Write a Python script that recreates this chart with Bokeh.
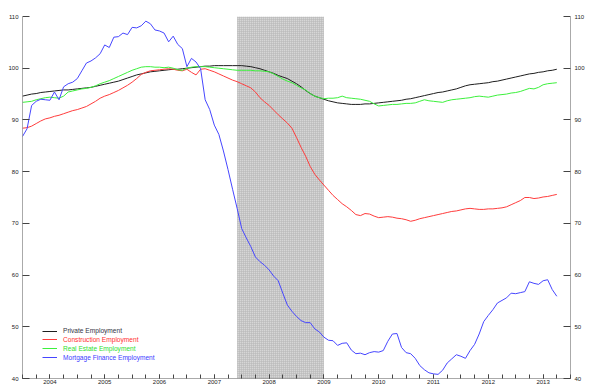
import numpy as np
from bokeh.plotting import figure
from bokeh.models import Range1d, LinearAxis, FixedTicker, Legend, LegendItem, Label
from bokeh.embed import file_html
from bokeh.resources import INLINE

# ---------------- data (monthly, Jan 2004 onward; index Jan 2007 = 100) ----------------
start_year = 2004
years = list(range(2004, 2014))
year_labels = [str(y) for y in years]
y_ticks = [40, 50, 60, 70, 80, 90, 100, 110]
rec_start = [2007 + 11 / 12]   # Dec 2007
rec_end = [2009.5]             # Jun 2009

series_names = ["Private Employment", "Construction Employment",
                "Real Estate Employment", "Mortgage Finance Employment"]

private = [
    94.6, 94.8, 95.0, 95.1, 95.3, 95.4, 95.5, 95.6, 95.7, 95.8, 95.8, 95.9,
    96.0, 96.1, 96.2, 96.3, 96.5, 96.7, 96.9, 97.1, 97.3, 97.5, 97.8, 98.1,
    98.4, 98.7, 98.9, 99.1, 99.3, 99.4, 99.5, 99.6, 99.7, 99.8, 99.8, 99.9,
    100.0, 100.1, 100.2, 100.3, 100.4, 100.4, 100.5, 100.5, 100.5, 100.5, 100.5, 100.5,
    100.5, 100.4, 100.3, 100.1, 99.9, 99.6, 99.3, 99.0, 98.6, 98.3, 98.0, 97.5,
    97.0, 96.4, 95.7, 95.1, 94.6, 94.3, 94.0, 93.7, 93.5, 93.3, 93.2, 93.1,
    93.0, 93.0, 93.0, 93.1, 93.1, 93.2, 93.3, 93.4, 93.5, 93.6, 93.7, 93.8,
    94.0, 94.1, 94.3, 94.5, 94.7, 94.9, 95.1, 95.3, 95.4, 95.6, 95.8, 96.0,
    96.3, 96.6, 96.8, 96.9, 97.0, 97.1, 97.2, 97.4, 97.5, 97.7, 97.9, 98.1,
    98.3, 98.5, 98.7, 98.9, 99.0, 99.2, 99.3, 99.5, 99.6, 99.8,
]

construction = [
    88.4, 88.5, 88.8, 89.3, 89.8, 90.2, 90.4, 90.7, 90.9, 91.2, 91.5, 91.8,
    92.0, 92.3, 92.6, 93.1, 93.6, 94.2, 94.6, 94.9, 95.3, 95.7, 96.2, 96.7,
    97.3, 98.0, 98.8, 99.2, 99.5, 99.6, 99.7, 99.8, 99.9, 99.8, 99.6, 99.5,
    99.8, 99.2, 98.7, 99.8, 99.9, 99.6, 99.3, 98.9, 98.5, 98.1, 97.7, 97.4,
    97.0, 96.6, 96.2, 95.4, 94.3, 93.5, 92.8, 91.9, 91.0, 90.2, 89.4, 88.4,
    86.6, 84.7, 83.0, 81.0, 79.5, 78.4, 77.4, 76.4, 75.4, 74.6, 73.8, 73.2,
    72.5, 71.7, 71.5, 71.9, 71.8, 71.4, 71.1, 71.2, 71.3, 71.2, 71.0, 70.9,
    70.7, 70.4, 70.6, 70.9, 71.1, 71.3, 71.5, 71.7, 71.9, 72.1, 72.3, 72.4,
    72.6, 72.8, 72.9, 72.8, 72.7, 72.7, 72.8, 72.8, 72.9, 73.0, 73.2, 73.6,
    74.0, 74.4, 75.0, 75.0, 74.8, 74.9, 75.1, 75.2, 75.4, 75.6,
]

real_estate = [
    93.4, 93.5, 93.6, 93.9, 94.1, 94.3, 94.4, 94.3, 94.2, 94.6, 95.4, 95.6,
    95.8, 96.0, 96.1, 96.3, 96.6, 97.0, 97.3, 97.6, 98.0, 98.4, 98.8, 99.2,
    99.6, 99.9, 100.2, 100.3, 100.3, 100.2, 100.2, 100.1, 100.2, 100.0, 99.7, 99.6,
    100.0, 100.2, 100.3, 100.3, 100.3, 100.2, 100.1, 100.0, 99.9, 99.8, 99.7, 99.6,
    99.6, 99.6, 99.6, 99.5, 99.5, 99.4, 99.3, 98.9, 98.4, 97.9, 97.5, 97.2,
    96.7, 96.2, 95.8, 95.1, 94.6, 94.3, 94.1, 94.2, 94.2, 94.3, 94.6, 94.3,
    94.2, 94.1, 94.0, 93.8, 93.6, 93.1, 92.7, 92.8, 92.9, 93.0, 93.0, 93.1,
    93.2, 93.2, 93.3, 93.6, 93.9, 93.7, 93.6, 93.5, 93.4, 93.7, 93.9, 94.0,
    94.1, 94.2, 94.3, 94.5, 94.6, 94.5, 94.4, 94.6, 94.8, 94.9, 95.0, 95.2,
    95.3, 95.5, 95.8, 96.1, 96.0, 96.3, 96.8, 97.0, 97.1, 97.2,
]

mortgage = [
    86.8, 88.3, 92.8, 93.6, 94.0, 93.9, 93.8, 95.4, 93.9, 96.4, 97.0, 97.3,
    98.0, 99.5, 101.0, 101.4, 102.0, 102.8, 104.5, 104.0, 106.0, 106.1, 106.8, 106.5,
    107.9, 107.8, 108.2, 109.1, 108.6, 107.4, 107.2, 106.8, 105.1, 106.2, 104.6, 103.8,
    100.3, 101.9, 101.2, 99.9, 93.9, 92.0, 89.0, 87.2, 84.0, 80.4, 76.6, 72.9,
    69.0, 67.2, 65.5, 63.5, 62.6, 61.9, 61.0, 59.8, 58.9, 56.5, 54.2, 53.0,
    52.0, 51.2, 50.8, 50.8, 49.6, 49.0, 48.0, 47.4, 47.3, 46.4, 46.8, 46.9,
    45.5, 44.8, 44.9, 44.6, 45.0, 45.2, 45.1, 45.4, 47.2, 48.6, 48.7, 46.0,
    45.0, 44.8, 43.9, 42.5, 41.7, 41.1, 40.9, 40.8, 41.6, 43.0, 43.8, 44.6,
    44.3, 43.9, 45.4, 46.6, 48.6, 51.0, 52.2, 53.3, 54.6, 55.1, 55.6, 56.5,
    56.4, 56.6, 56.8, 58.7, 58.4, 58.2, 58.9, 59.1, 57.2, 55.9,
]

line_colors = ["#1e1e1e", "#ff3c3c", "#3cf03c", "#4646ff"]
label_colors = ["#333344", "#ff3030", "#30e030", "#4040ff"]
FONT = "Liberation Sans"


def months(vals):
    return start_year + np.arange(len(vals)) / 12.0


p = figure(width=600, height=388, output_backend="svg", toolbar_location=None,
           x_range=Range1d(years[0], years[-1] + 1),
           y_range=Range1d(y_ticks[0], y_ticks[-1]),
           min_border_left=22, min_border_right=30, min_border_top=16, min_border_bottom=10)
p.xgrid.visible = False
p.ygrid.visible = False
p.outline_line_color = None
p.background_fill_color = "white"
p.border_fill_color = "white"

# recession band (stippled grey)
p.quad(left=rec_start, right=rec_end, bottom=[y_ticks[0]], top=[y_ticks[-1]],
       fill_color="#d6d6d6", line_color=None,
       hatch_pattern="+", hatch_scale=2, hatch_color="#b4b4b4", hatch_weight=1)

renderers = []
for vals, col in zip([private, construction, real_estate, mortgage], line_colors):
    renderers.append(p.line(months(vals), vals, line_color=col, line_width=1))

# x axis: quarterly ticks, labels at mid-year
xa = p.xaxis[0]
xa.ticker = FixedTicker(ticks=[y + 0.5 for y in years],
                        minor_ticks=list(np.arange(years[0], years[-1] + 1.001, 0.25)))
xa.major_label_overrides = {y + 0.5: lab for y, lab in zip(years, year_labels)}
xa.major_tick_in = 4
xa.major_tick_out = 0
xa.minor_tick_in = 4
xa.minor_tick_out = 0
xa.major_label_standoff = 1
xa.major_label_text_font_size = "6px"
xa.major_label_text_font = FONT
xa.major_label_text_color = "#222222"
xa.axis_line_color = "#555555"
xa.axis_line_dash = "1 1"
xa.major_tick_line_color = "#444444"
xa.minor_tick_line_color = "#444444"

ra = LinearAxis()
p.add_layout(ra, "right")
for ax in [p.yaxis[0], ra]:
    ax.ticker = FixedTicker(ticks=y_ticks, minor_ticks=[])
    ax.major_tick_in = 7
    ax.major_tick_out = 0
    ax.minor_tick_in = 0
    ax.minor_tick_out = 0
    ax.major_label_standoff = 4
    ax.major_label_text_font_size = "6px"
    ax.major_label_text_font = FONT
    ax.major_label_text_color = "#222222"
    ax.axis_line_color = "#555555"
    ax.axis_line_dash = "1 1"
    ax.major_tick_line_color = "#444444"

# colored legend entries, one legend each
legend_y = [43.3, 34.7, 25.7, 16.7]
for r, name, col, ly in zip(renderers, series_names, label_colors, legend_y):
    lg = Legend(items=[LegendItem(label=name, renderers=[r])], location=(20, ly),
                background_fill_alpha=0, border_line_color=None, padding=0, margin=0,
                spacing=0, glyph_width=15, glyph_height=8, label_height=8,
                label_standoff=6, label_text_font_size="6.6px", label_text_font=FONT,
                label_text_color=col)
    p.add_layout(lg)

p.add_layout(Label(x=years[-1] + 1, y=y_ticks[-1], text="Index, January 2007 = 100",
                   text_align="right", text_baseline="bottom", x_offset=-1, y_offset=3,
                   text_font_size="6.6px", text_font=FONT, text_color="#222222"))

open("out.html", "w").write(file_html(p, INLINE))
